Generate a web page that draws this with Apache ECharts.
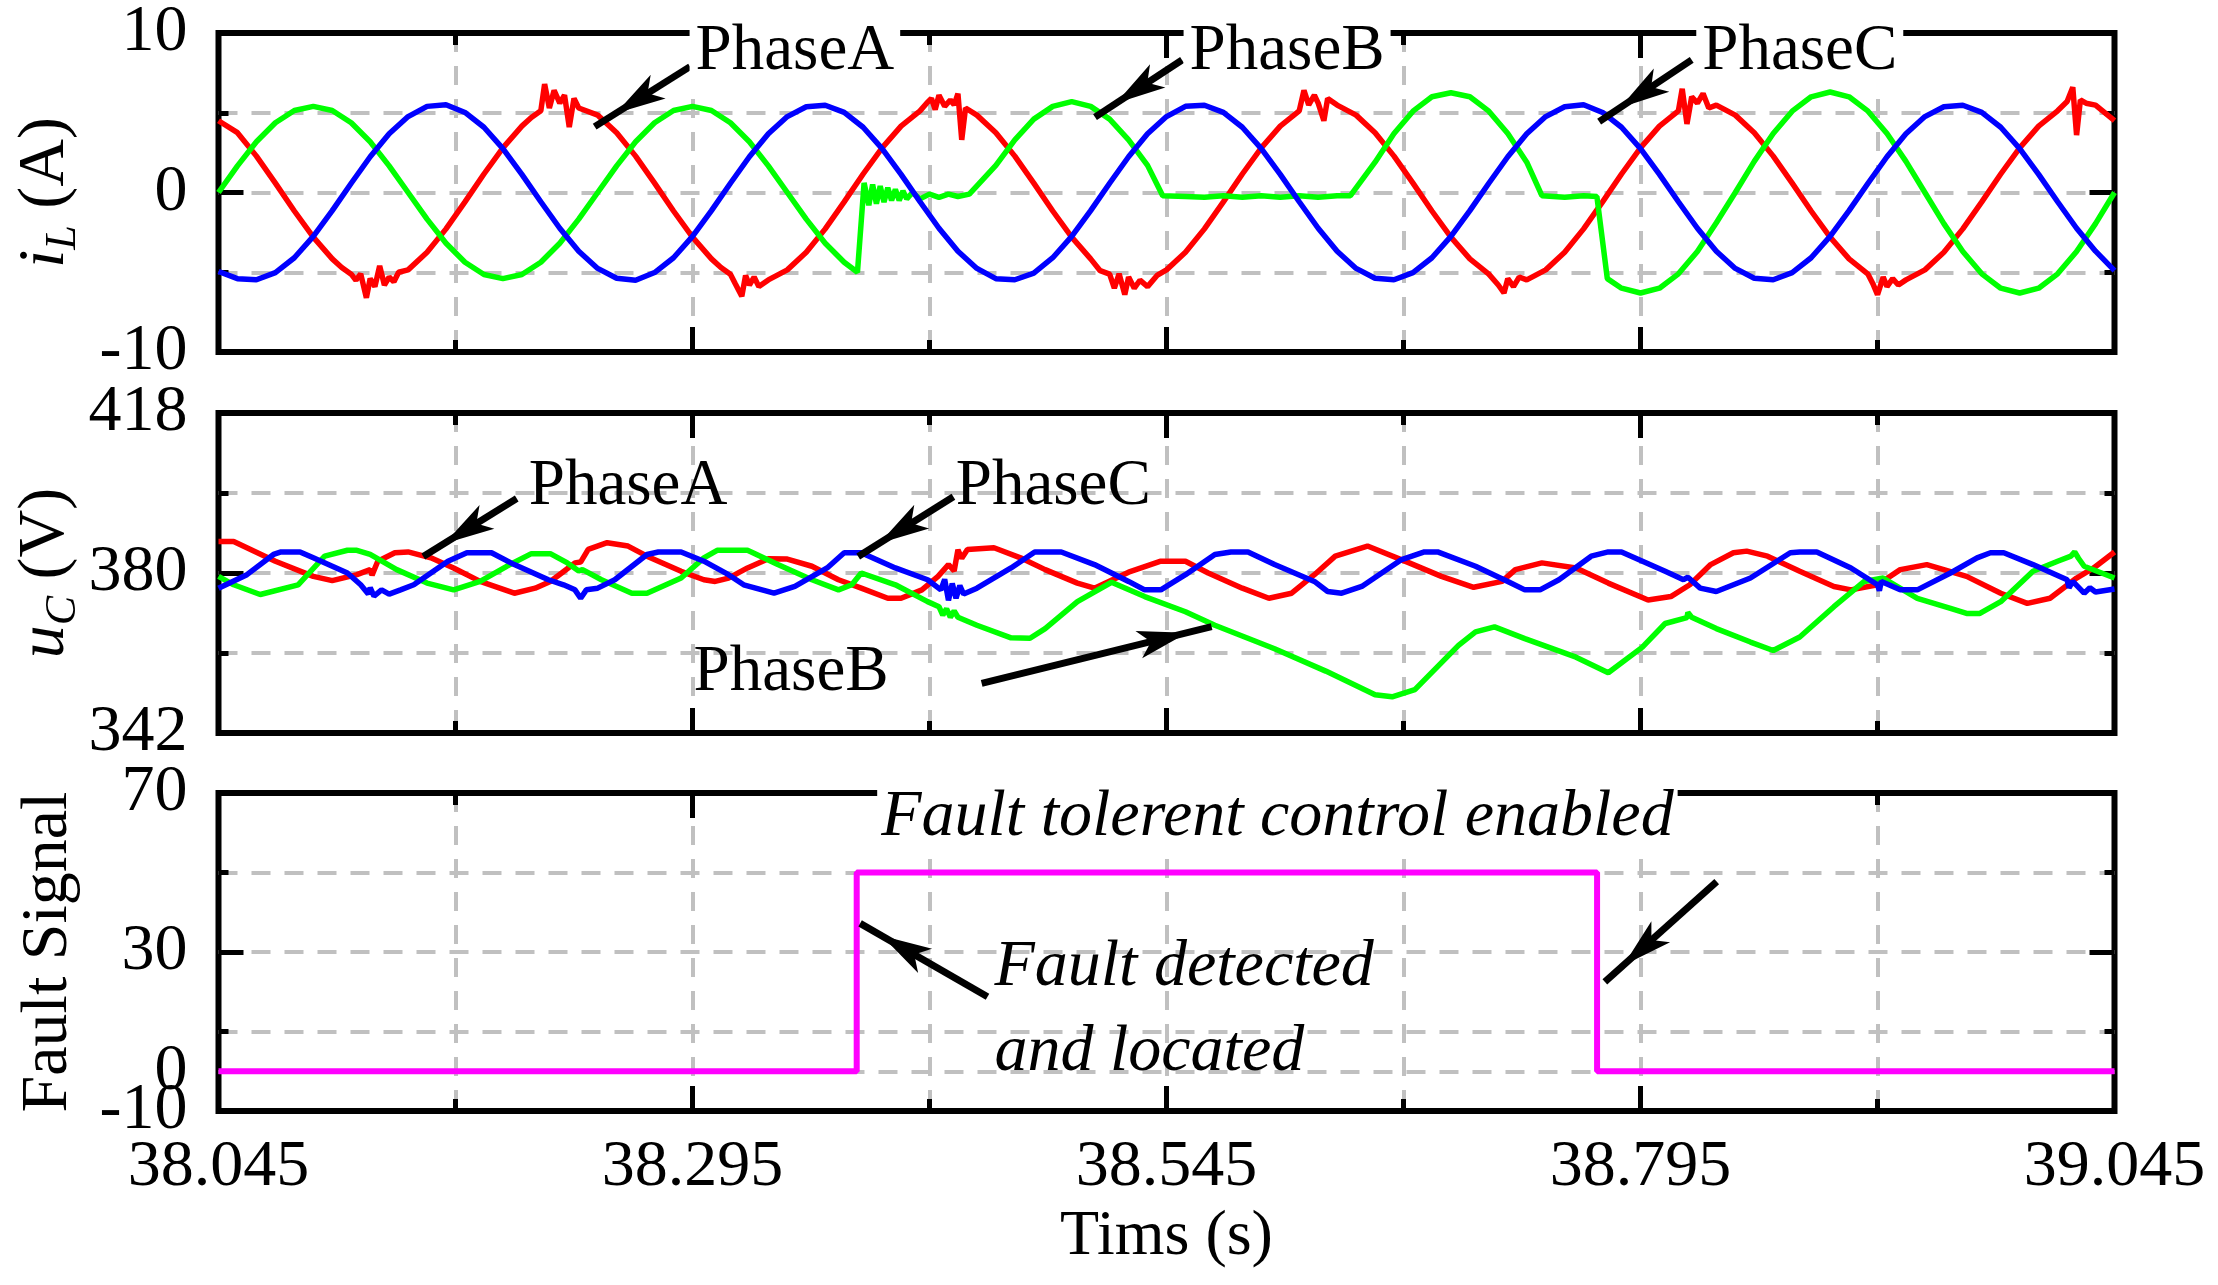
<!DOCTYPE html>
<html><head><meta charset="utf-8">
<script src="https://cdn.jsdelivr.net/npm/echarts@6/dist/echarts.min.js"></script>
<style>html,body{margin:0;padding:0;background:#fff}#c{width:2218px;height:1285px}</style>
</head><body><div id="c"></div>
<script>
// ---------------- data (time as offset in s from T0) ----------------
const T0 = 38.045;
const xTickLabels = ['38.045','38.295','38.545','38.795','39.045'];
const faultTickLabels = [-10, 30, 70];
const faultZeroLabel = [0];

const tGrid = [0,0.01,0.02,0.03,0.04,0.05,0.06,0.07,0.08,0.09,0.1,0.11,0.12,0.13,0.14,0.15,0.16,0.17,0.18,0.19,
0.2,0.21,0.22,0.23,0.24,0.25,0.26,0.27,0.28,0.29,0.3,0.31,0.32,0.33,0.34,0.35,0.36,0.37,0.38,0.39,
0.4,0.41,0.42,0.43,0.44,0.45,0.46,0.47,0.48,0.49,0.5,0.51,0.52,0.53,0.54,0.55,0.56,0.57,0.58,0.59,
0.6,0.61,0.62,0.63,0.64,0.65,0.66,0.67,0.68,0.69,0.7,0.71,0.72,0.73,0.74,0.75,0.76,0.77,0.78,0.79,
0.8,0.81,0.82,0.83,0.84,0.85,0.86,0.87,0.88,0.89,0.9,0.91,0.92,0.93,0.94,0.95,0.96,0.97,0.98,0.99,1];

// inductor current, phase C (blue)
const iLC = [-4.95,-5.40,-5.47,-5.02,-4.09,-2.75,-1.14,0.58,2.24,3.68,4.76,5.40,5.50,5.02,4.09,2.75,1.14,-0.58,-2.24,-3.68,
-4.76,-5.38,-5.50,-5.02,-4.09,-2.75,-1.14,0.58,2.24,3.68,4.76,5.38,5.47,5.02,4.09,2.75,1.14,-0.58,-2.24,-3.68,
-4.76,-5.40,-5.47,-5.05,-4.09,-2.75,-1.14,0.58,2.24,3.68,4.76,5.40,5.47,5.02,4.09,2.75,1.14,-0.58,-2.24,-3.68,
-4.76,-5.38,-5.47,-5.02,-4.09,-2.75,-1.14,0.58,2.24,3.68,4.76,5.38,5.50,5.02,4.09,2.75,1.14,-0.58,-2.24,-3.68,
-4.76,-5.38,-5.47,-5.02,-4.09,-2.75,-1.14,0.58,2.24,3.68,4.76,5.38,5.47,5.02,4.09,2.75,1.14,-0.58,-2.24,-3.68,-4.9];

// inductor current, phase A (red) [t, A]
const iLA = [[0,4.5],[0.01,3.75],[0.02,2.28],[0.03,0.59],[0.04,-1.16],[0.05,-2.8],[0.06,-4.16],[0.065,-4.7],[0.07,-5.12],[0.0725,-5.5],[0.075,-5.1],[0.078,-6.6],[0.08,-5.4],[0.0825,-5.9],[0.085,-4.6],[0.0875,-5.8],[0.09,-5.3],[0.0925,-5.6],[0.095,-5.0],[0.1,-4.85],[0.11,-3.75],[0.12,-2.28],[0.13,-0.59],[0.14,1.16],[0.15,2.8],[0.16,4.16],[0.165,4.7],[0.17,5.12],[0.172,6.8],[0.1745,5.3],[0.177,6.4],[0.18,5.6],[0.1825,6.1],[0.185,4.1],[0.1875,5.9],[0.19,5.3],[0.2,4.85],[0.21,3.75],[0.22,2.28],[0.23,0.59],[0.24,-1.16],[0.25,-2.8],[0.26,-4.16],[0.265,-4.7],[0.27,-5.12],[0.2725,-5.7],[0.276,-6.5],[0.278,-5.2],[0.28,-5.8],[0.2825,-5.3],[0.285,-5.9],[0.29,-5.48],[0.3,-4.85],[0.31,-3.75],[0.32,-2.28],[0.33,-0.59],[0.34,1.16],[0.35,2.8],[0.36,4.16],[0.37,5.12],[0.3735,5.6],[0.376,5.9],[0.378,5.2],[0.38,6.1],[0.383,5.4],[0.386,5.8],[0.388,5.5],[0.39,6.2],[0.392,3.3],[0.394,5.3],[0.4,4.85],[0.41,3.75],[0.42,2.28],[0.43,0.59],[0.44,-1.16],[0.45,-2.8],[0.46,-4.16],[0.465,-4.9],[0.47,-5.12],[0.4725,-6.0],[0.475,-5.1],[0.478,-6.4],[0.48,-5.3],[0.483,-6.0],[0.486,-5.5],[0.49,-5.9],[0.495,-5.2],[0.5,-4.85],[0.51,-3.75],[0.52,-2.28],[0.53,-0.59],[0.54,1.16],[0.55,2.8],[0.56,4.16],[0.57,5.12],[0.5725,6.4],[0.575,5.5],[0.578,6.1],[0.58,5.6],[0.583,4.5],[0.585,5.9],[0.59,5.48],[0.6,4.85],[0.61,3.75],[0.62,2.28],[0.63,0.59],[0.64,-1.16],[0.65,-2.8],[0.66,-4.16],[0.67,-5.12],[0.675,-5.8],[0.678,-6.3],[0.68,-5.4],[0.683,-5.9],[0.686,-5.3],[0.69,-5.48],[0.7,-4.85],[0.71,-3.75],[0.72,-2.28],[0.73,-0.59],[0.74,1.16],[0.75,2.8],[0.76,4.16],[0.77,5.12],[0.772,6.5],[0.7745,4.3],[0.777,6.0],[0.78,5.6],[0.783,6.2],[0.786,5.3],[0.79,5.48],[0.8,4.85],[0.81,3.75],[0.82,2.28],[0.83,0.59],[0.84,-1.16],[0.85,-2.8],[0.86,-4.16],[0.87,-5.12],[0.8725,-5.7],[0.875,-6.4],[0.878,-5.3],[0.88,-5.9],[0.883,-5.4],[0.886,-5.8],[0.89,-5.48],[0.9,-4.85],[0.91,-3.75],[0.92,-2.28],[0.93,-0.59],[0.94,1.16],[0.95,2.8],[0.96,4.16],[0.97,5.12],[0.975,5.7],[0.978,6.6],[0.98,3.6],[0.982,5.8],[0.985,5.6],[0.99,5.48],[1,4.5]];

// inductor current, phase B (green, faulty) [t, A]
const iLB = [[0,0],[0.01,1.67],[0.02,3.18],[0.03,4.37],[0.04,5.14],[0.05,5.4],[0.06,5.14],[0.07,4.37],[0.08,3.18],[0.09,1.67],[0.1,0],[0.11,-1.67],[0.12,-3.18],[0.13,-4.37],[0.14,-5.14],[0.15,-5.4],[0.16,-5.14],[0.17,-4.37],[0.18,-3.18],[0.19,-1.67],[0.2,0],[0.21,1.67],[0.22,3.18],[0.23,4.37],[0.24,5.14],[0.25,5.4],[0.26,5.14],[0.27,4.37],[0.28,3.18],[0.29,1.67],[0.3,0],[0.31,-1.67],[0.32,-3.18],[0.33,-4.37],[0.337,-5.0],[0.3405,0.6],[0.343,-0.8],[0.345,0.5],[0.347,-0.7],[0.349,0.4],[0.351,-0.6],[0.353,0.3],[0.355,-0.5],[0.357,0.2],[0.359,-0.5],[0.361,0.1],[0.363,-0.4],[0.366,0],[0.37,-0.4],[0.375,-0.1],[0.38,-0.3],[0.385,-0.1],[0.39,-0.25],[0.396,-0.1],[0.41,1.7],[0.42,3.3],[0.43,4.6],[0.44,5.4],[0.45,5.7],[0.46,5.4],[0.47,4.6],[0.48,3.3],[0.49,1.7],[0.498,-0.2],[0.51,-0.25],[0.52,-0.3],[0.53,-0.2],[0.54,-0.3],[0.55,-0.2],[0.56,-0.3],[0.57,-0.2],[0.58,-0.3],[0.59,-0.2],[0.597,-0.2],[0.61,1.9],[0.62,3.7],[0.63,5.1],[0.64,6.0],[0.65,6.25],[0.66,6.0],[0.67,5.1],[0.68,3.7],[0.69,1.9],[0.698,-0.2],[0.71,-0.3],[0.72,-0.2],[0.727,-0.25],[0.7325,-5.4],[0.74,-6.0],[0.75,-6.3],[0.76,-6.0],[0.77,-5.1],[0.78,-3.7],[0.79,-1.9],[0.8,0],[0.81,1.95],[0.82,3.7],[0.83,5.1],[0.84,6.0],[0.85,6.3],[0.86,6.0],[0.87,5.1],[0.88,3.7],[0.89,1.95],[0.9,0],[0.91,-1.95],[0.92,-3.7],[0.93,-5.1],[0.94,-6.0],[0.95,-6.3],[0.96,-6.0],[0.97,-5.1],[0.98,-3.7],[0.99,-1.95],[1,0]];

// capacitor voltages [t, V]
const uCA = [[0,387.5],[0.008,387.5],[0.03,382.8],[0.05,379.2],[0.06,378.2],[0.073,379.6],[0.08,380.8],[0.081,379.5],[0.084,382.8],[0.093,384.8],[0.1,385.0],[0.112,383.6],[0.124,381.2],[0.138,378.0],[0.156,375.2],[0.167,376.4],[0.175,378.0],[0.181,380.0],[0.188,382.4],[0.191,382.6],[0.195,385.6],[0.205,387.2],[0.216,386.4],[0.226,384.0],[0.244,380.4],[0.256,378.4],[0.262,378.0],[0.269,378.8],[0.279,381.2],[0.29,383.4],[0.3,383.3],[0.313,381.6],[0.327,378.4],[0.339,376.4],[0.353,374.0],[0.36,374.0],[0.371,376.0],[0.3795,379.2],[0.385,382.0],[0.388,380.5],[0.39,385.5],[0.392,383.5],[0.395,385.6],[0.409,386.0],[0.423,383.6],[0.436,380.8],[0.453,377.6],[0.462,376.4],[0.48,380.2],[0.497,382.8],[0.51,382.8],[0.522,380.0],[0.54,376.4],[0.554,374.0],[0.566,375.2],[0.578,379.6],[0.589,384.0],[0.606,386.4],[0.628,382.4],[0.645,379.2],[0.662,376.6],[0.677,378.0],[0.684,380.8],[0.698,382.4],[0.716,381.2],[0.733,377.6],[0.754,373.6],[0.766,374.4],[0.776,377.2],[0.787,382.0],[0.799,384.8],[0.806,385.2],[0.817,384.0],[0.834,380.4],[0.852,376.8],[0.861,376.0],[0.875,377.2],[0.887,380.8],[0.901,382.0],[0.922,379.2],[0.94,375.2],[0.954,372.8],[0.966,374.0],[0.98,378.8],[0.989,381.2],[1,385.0]];
const uCC = [[0,376.4],[0.015,379.6],[0.029,384.4],[0.033,385.0],[0.043,385.0],[0.05,383.6],[0.068,380.0],[0.075,377.2],[0.079,375.0],[0.08,376.5],[0.082,374.5],[0.086,376.0],[0.09,375.0],[0.096,376.0],[0.103,377.2],[0.121,382.8],[0.131,384.8],[0.144,384.8],[0.156,382.0],[0.174,378.4],[0.182,377.2],[0.188,376.0],[0.191,374.0],[0.194,376.0],[0.2,376.4],[0.209,378.4],[0.226,384.4],[0.232,385.0],[0.244,385.0],[0.256,382.8],[0.269,379.6],[0.277,377.2],[0.293,375.2],[0.304,376.8],[0.321,381.2],[0.33,384.8],[0.339,384.8],[0.357,381.2],[0.374,378.4],[0.381,376.0],[0.383,378.5],[0.385,373.5],[0.387,377.5],[0.389,374.0],[0.391,377.0],[0.393,375.0],[0.4,376.4],[0.418,381.2],[0.4305,385.0],[0.4445,385.0],[0.462,382.0],[0.48,378.0],[0.4885,376.0],[0.497,376.0],[0.51,379.6],[0.5255,384.4],[0.534,385.0],[0.543,385.0],[0.557,382.0],[0.578,378.0],[0.585,375.6],[0.5924,375.2],[0.603,376.8],[0.624,383.2],[0.636,385.0],[0.643,385.0],[0.663,381.6],[0.68,378.0],[0.689,376.0],[0.697,376.0],[0.707,378.4],[0.724,384.0],[0.733,385.0],[0.74,385.0],[0.763,380.4],[0.7727,378.4],[0.775,379.0],[0.7815,376.4],[0.79,375.6],[0.808,378.8],[0.829,384.8],[0.834,385.0],[0.843,385.0],[0.861,381.2],[0.875,377.2],[0.876,375.8],[0.877,378.0],[0.887,376.0],[0.896,376.0],[0.9135,380.0],[0.9275,383.6],[0.9346,384.8],[0.9416,384.8],[0.957,382.0],[0.975,378.4],[0.976,376.5],[0.978,378.0],[0.984,375.2],[0.987,376.5],[0.99,375.5],[1,376.2]];
const uCB = [[0,379.2],[0.008,377.2],[0.022,374.9],[0.042,377.2],[0.056,384.0],[0.068,385.4],[0.073,385.4],[0.08,384.4],[0.094,380.8],[0.11,377.6],[0.124,376.0],[0.138,378.0],[0.152,381.6],[0.165,384.6],[0.175,384.6],[0.184,382.4],[0.19,380.5],[0.192,380.8],[0.202,378.4],[0.218,375.2],[0.226,375.2],[0.244,378.8],[0.256,383.6],[0.263,385.4],[0.279,385.4],[0.281,385.0],[0.295,382.0],[0.313,378.4],[0.327,376.0],[0.334,377.2],[0.339,380.0],[0.357,377.2],[0.374,373.2],[0.38,372.0],[0.382,370.0],[0.384,371.5],[0.386,369.5],[0.388,371.0],[0.39,369.5],[0.4,367.6],[0.418,364.6],[0.428,364.5],[0.436,366.8],[0.453,373.2],[0.471,377.8],[0.4885,374.4],[0.51,370.8],[0.5255,367.6],[0.557,362.0],[0.584,356.7],[0.61,351.1],[0.619,350.6],[0.631,352.3],[0.654,362.8],[0.663,366.0],[0.673,367.2],[0.689,364.4],[0.716,360.0],[0.733,356.3],[0.751,362.4],[0.763,368.0],[0.7745,369.4],[0.775,370.6],[0.777,369.5],[0.79,366.8],[0.808,363.6],[0.82,361.6],[0.834,364.8],[0.852,372.0],[0.868,378.0],[0.878,378.8],[0.896,374.0],[0.9135,371.6],[0.922,370.4],[0.929,370.4],[0.94,373.2],[0.957,380.4],[0.97,382.8],[0.977,384.0],[0.979,385.0],[0.981,383.5],[0.984,381.6],[1,378.8]];

// fault signal
const faultT = [0, 0.3366, 0.3366, 0.7271, 0.7271, 1];
const faultV = [0, 0, 50, 50, 0, 0];

// annotations (data coordinates): [text, t, value]
const notesIL = [['PhaseA',0.304,8.8],['PhaseB',0.5636,8.8],['PhaseC',0.834,8.8]];
const arrowsIL = [[0.2487,7.89,0.1984,4.13],[0.5082,8.31,0.4623,4.73],[0.777,8.31,0.7282,4.44]];
const notesUC = [['PhaseA',0.216,400.4],['PhaseC',0.4403,400.5],['PhaseB',0.302,356.2]];
const arrowsUC = [[0.1573,397.7,0.108,383.9],[0.3876,398.1,0.3374,383.9],[0.4025,353.8,0.5238,367.25]];
const notesFaultTop = [['Fault tolerent control enabled',0.5585,63.7]];
const notesFaultLeft = [['Fault detected',0.409,26.0],['and located',0.409,4.6]];
const arrowsF = [[0.4056,18.75,0.3384,37.2],[0.7902,47.7,0.7312,22.5]];

// ---------------- chart ----------------
const FONT = 'Liberation Serif';
const LW = 5.5;
const gls = {color:'#c0c0c0', width:4, type:[19,14]};
const chart = echarts.init(document.getElementById('c'), null, {renderer:'canvas'});

const pair = (ts, vs) => ts.map((t, i) => [t, vs[i]]);

function mkX(gi, pos, showLab, extra) {
  return Object.assign({
    type:'value', gridIndex:gi, position:pos, min:0, max:1, interval:0.25,
    axisLine:{show:false, onZero:false},
    axisTick:{show:true, inside:true, length:25, lineStyle:{color:'#000', width:5}},
    minorTick:{show:true, splitNumber:2, length:12, lineStyle:{color:'#000', width:5}},
    splitLine:{show: pos==='bottom', showMinLine:false, showMaxLine:false, lineStyle:gls},
    minorSplitLine:{show: pos==='bottom', lineStyle:gls},
    axisLabel:{show:showLab, margin:24, fontFamily:FONT, fontSize:66, color:'#000',
      showMinLabel:true, showMaxLabel:true, hideOverlap:false,
      formatter:(v)=> { const k = Math.round(v/0.25); return Math.abs(v-k*0.25)<1e-6 ? (xTickLabels[k]||'') : ''; }}
  }, extra||{});
}
function mkY(gi, pos, min, max, interval, o) {
  o = o || {};
  return Object.assign({
    type:'value', gridIndex:gi, position:pos, min:min, max:max, interval:interval,
    axisLine:{show:false, onZero:false},
    axisTick:{show:true, inside:true, length:25, lineStyle:{color:'#000', width:5}},
    minorTick:{show:true, splitNumber:2, length:10, lineStyle:{color:'#000', width:5}},
    splitLine:{show:false},
    minorSplitLine:{show:false},
    axisLabel:{show:false}
  }, o);
}
const yLab = {show:true, margin:31, fontFamily:FONT, fontSize:66, color:'#000', showMinLabel:true, showMaxLabel:true, hideOverlap:false};
const nameStyle = {fontFamily:FONT, fontSize:66, color:'#000',
  rich:{
    i:{fontFamily:FONT, fontSize:66, fontStyle:'italic', color:'#000', lineHeight:80},
    s:{fontFamily:FONT, fontSize:44, fontStyle:'italic', color:'#000', lineHeight:30, verticalAlign:'bottom'},
    n:{fontFamily:FONT, fontSize:66, color:'#000', lineHeight:80}
  }};

function arrowLines(list) {
  return {
    silent:true, animation:false, symbol:['none','arrow'], symbolSize:[21,50],
    symbolOffset:[[0,0],[0,'50%']],
    lineStyle:{color:'#000', width:7, type:'solid'},
    itemStyle:{color:'#000'},
    label:{show:false}, emphasis:{disabled:true},
    data: list.map(a => [{coord:[a[0],a[1]]},{coord:[a[2],a[3]]}])
  };
}
function notes(list, opt) {
  return list.map(n => ({
    coord:[n[1], n[2]], symbol:'circle', symbolSize:1, itemStyle:{color:'rgba(0,0,0,0)'},
    label:Object.assign({show:true, formatter:n[0], fontFamily:FONT, color:'#000'}, opt)
  }));
}

const phaseNoteStyle = {position:'inside', fontSize:65, backgroundColor:'#fff', padding:[2,6]};
const gridBase = {left:218.5, width:1896, show:true, borderColor:'#000', borderWidth:6, backgroundColor:'rgba(0,0,0,0)', outerBoundsMode:'none', containLabel:false};

const option = {
  backgroundColor:'#fff',
  animation:false,
  textStyle:{fontFamily:FONT},
  grid:[
    Object.assign({top:33, height:319}, gridBase),
    Object.assign({top:413, height:320}, gridBase),
    Object.assign({top:793, height:318}, gridBase)
  ],
  xAxis:[
    mkX(0,'bottom',false), mkX(0,'top',false),
    mkX(1,'bottom',false), mkX(1,'top',false),
    mkX(2,'bottom',true,{name:'Tims (s)', nameLocation:'middle', nameGap:94, nameMoveOverlap:false,
       nameTextStyle:{fontFamily:FONT, fontSize:64, color:'#000'}}),
    mkX(2,'top',false)
  ],
  yAxis:[
    mkY(0,'left',-10,10,10,{axisLabel:yLab,
      splitLine:{show:true, showMinLine:false, showMaxLine:false, lineStyle:gls}, minorSplitLine:{show:true, lineStyle:gls},
      name:'{i|i}{s|L}{n| (A)}', nameLocation:'middle', nameGap:133, nameRotate:90, nameMoveOverlap:false, nameTextStyle:nameStyle}),
    mkY(0,'right',-10,10,10),
    mkY(1,'left',342,418,38,{axisLabel:yLab,
      splitLine:{show:true, showMinLine:false, showMaxLine:false, lineStyle:gls}, minorSplitLine:{show:true, lineStyle:gls},
      name:'{i|u}{s|C}{n| (V)}', nameLocation:'middle', nameGap:133, nameRotate:90, nameMoveOverlap:false, nameTextStyle:nameStyle}),
    mkY(1,'right',342,418,38),
    mkY(2,'left',-10,70,10,{axisTick:{show:false}, minorTick:{show:false},
      axisLabel:Object.assign({}, yLab, {formatter:(v)=> faultTickLabels.indexOf(Math.round(v))>=0 ? String(Math.round(v)) : ''}),
      splitLine:{show:true, showMinLine:false, showMaxLine:false,
        lineStyle:{color:['#c0c0c0','#c0c0c0','rgba(0,0,0,0)','#c0c0c0','rgba(0,0,0,0)','#c0c0c0','rgba(0,0,0,0)'], width:4, type:[19,14]}},
      name:'Fault Signal', nameLocation:'middle', nameGap:137, nameRotate:90, nameMoveOverlap:false,
      nameTextStyle:{fontFamily:FONT, fontSize:66, color:'#000'}}),
    mkY(2,'left',-10,70,40),
    mkY(2,'right',-10,70,40),
    // separate label axis for the "0" tick label (it overlaps "-10" in the reference)
    mkY(2,'left',-10,70,10,{axisTick:{show:false}, minorTick:{show:false},
      axisLabel:Object.assign({}, yLab, {showMinLabel:false, showMaxLabel:false,
        formatter:(v)=> faultZeroLabel.indexOf(Math.round(v))>=0 ? String(Math.round(v)) : ''})})
  ],
  series:[
    {type:'line', xAxisIndex:0, yAxisIndex:0, data:iLA, symbol:'none', clip:true, lineStyle:{color:'#ff0000', width:LW}, itemStyle:{color:'#ff0000'}},
    {type:'line', xAxisIndex:0, yAxisIndex:0, data:iLB, symbol:'none', clip:true, lineStyle:{color:'#00ff00', width:LW}, itemStyle:{color:'#00ff00'}},
    {type:'line', xAxisIndex:0, yAxisIndex:0, data:pair(tGrid, iLC), symbol:'none', clip:true, lineStyle:{color:'#0000ff', width:LW}, itemStyle:{color:'#0000ff'},
      markLine:arrowLines(arrowsIL),
      markPoint:{silent:true, animation:false, data:notes(notesIL, phaseNoteStyle)}},
    {type:'line', xAxisIndex:2, yAxisIndex:2, data:uCA, symbol:'none', clip:true, lineStyle:{color:'#ff0000', width:LW}, itemStyle:{color:'#ff0000'}},
    {type:'line', xAxisIndex:2, yAxisIndex:2, data:uCB, symbol:'none', clip:true, lineStyle:{color:'#00ff00', width:LW}, itemStyle:{color:'#00ff00'}},
    {type:'line', xAxisIndex:2, yAxisIndex:2, data:uCC, symbol:'none', clip:true, lineStyle:{color:'#0000ff', width:LW}, itemStyle:{color:'#0000ff'},
      markLine:arrowLines(arrowsUC),
      markPoint:{silent:true, animation:false, data:notes(notesUC, {position:'inside', fontSize:65})}},
    {type:'line', xAxisIndex:4, yAxisIndex:4, data:pair(faultT, faultV), symbol:'none', clip:true, lineStyle:{color:'#ff00ff', width:6}, itemStyle:{color:'#ff00ff'},
      markLine:arrowLines(arrowsF),
      markPoint:{silent:true, animation:false, data:
        notes(notesFaultTop, {position:'inside', fontSize:66, fontStyle:'italic', backgroundColor:'#fff', padding:[2,4]})
        .concat(notes(notesFaultLeft, {position:'right', distance:0, fontSize:66, fontStyle:'italic'}))}}
  ]
};
chart.setOption(option);
</script>
</body></html>
